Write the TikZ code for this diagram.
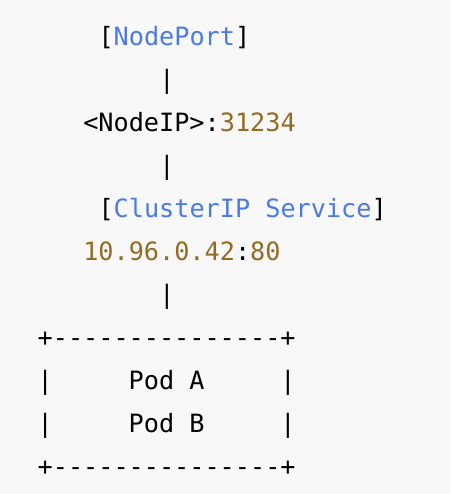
\documentclass[tikz,border=0pt]{standalone}
\usepackage{fontspec}
\setmonofont{DejaVu Sans Mono}
\usepackage{xcolor}
\usetikzlibrary{positioning}

\definecolor{codebg}{HTML}{F8F8F8}
\definecolor{codeblue}{HTML}{4A7AE8}
\definecolor{codenum}{HTML}{936B22}

\begin{document}
\begin{tikzpicture}[
        x=1pt, y=1pt,
        every node/.style={inner sep=0pt, anchor=base west,
            font=\ttfamily\fontsize{25.2}{43}\selectfont}
    ]

    % Background
    \fill[codebg] (0,0) rectangle (450,494);

    % Services
    \node (nodeport) at (98.3,448) {[\textcolor{codeblue}{NodePort}]};
    \node (bar1) at (159.1,405) {|};
    \node (nodeip) at (83.1,362) {<NodeIP>:\textcolor{codenum}{31234}};
    \node (bar2) at (159.1,319) {|};
    \node (cluster) at (98.3,276) {[\textcolor{codeblue}{ClusterIP~Service}]};
    \node (clusterip) at (83.1,233) {\textcolor{codenum}{10.96.0.42}:\textcolor{codenum}{80}};
    \node (bar3) at (159.1,190) {|};

    % Pods
    \node (boxtop) at (37.5,147) {+---------------+};
    \node (poda) at (37.5,104) {|~~~~~Pod~A~~~~~|};
    \node (podb) at (37.5,61) {|~~~~~Pod~B~~~~~|};
    \node (boxbot) at (37.5,18) {+---------------+};

\end{tikzpicture}
\end{document}
